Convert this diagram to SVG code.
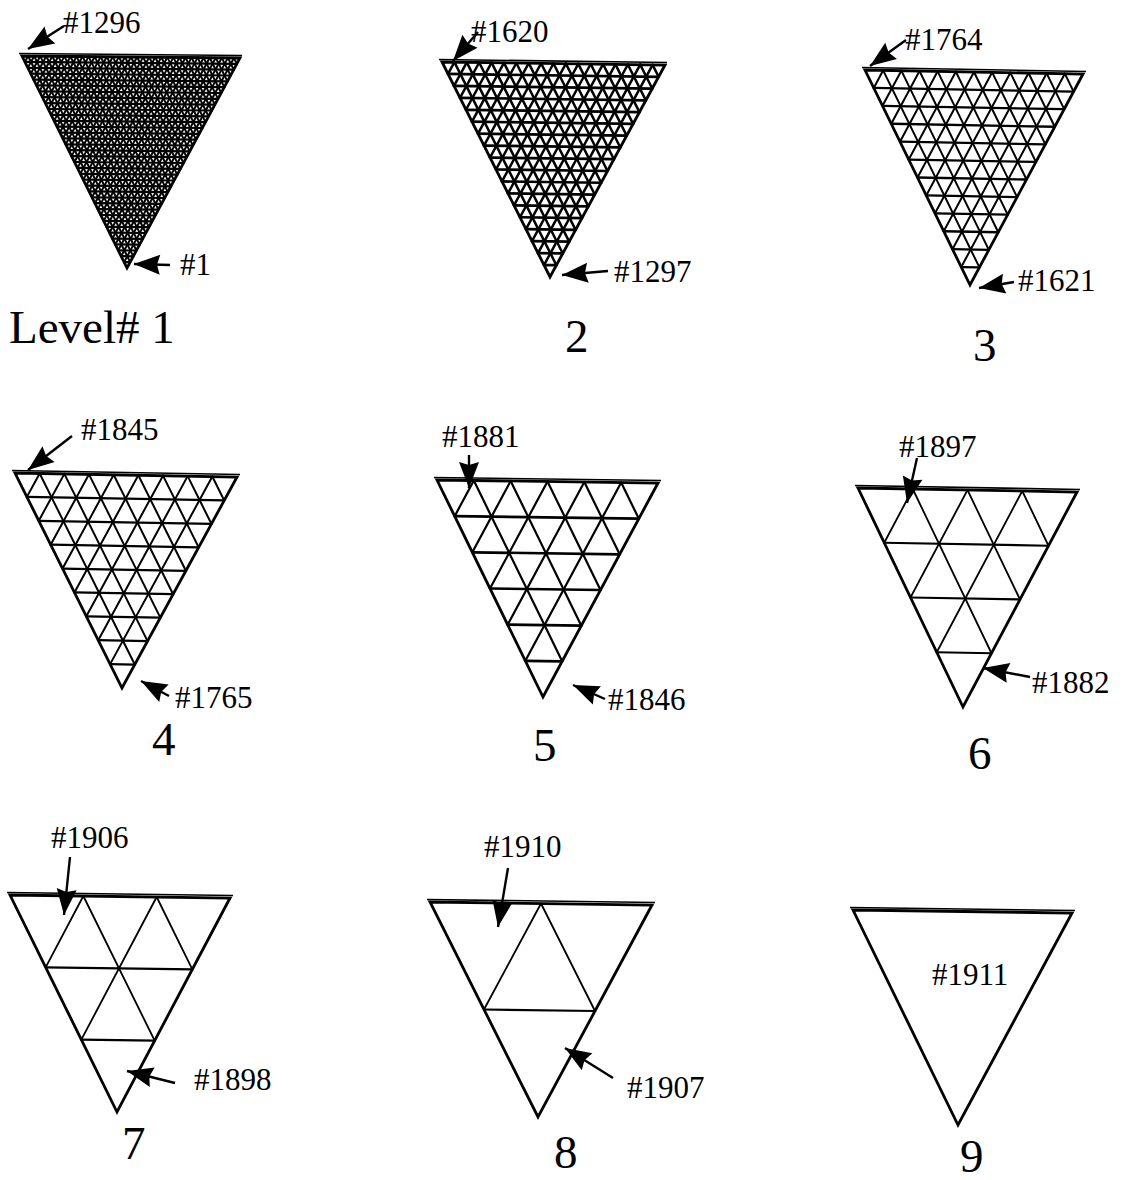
<svg xmlns="http://www.w3.org/2000/svg" width="1126" height="1180" viewBox="0 0 1126 1180">
<defs>
<style>
.g{fill:none;stroke:#000;vector-effect:non-scaling-stroke;stroke-linecap:round}
.o{fill:none;stroke:#000;stroke-width:2.8;vector-effect:non-scaling-stroke;stroke-linejoin:miter}
.top{stroke:#000;stroke-width:1.6;fill:none}
.lbl{font-family:"Liberation Serif","Times New Roman",serif;font-size:31px;fill:#000}
.lvl{font-family:"Liberation Serif","Times New Roman",serif;font-size:47px;fill:#000}
.arr{stroke:#000;stroke-width:2.4;fill:none;marker-end:url(#ah)}
</style>
<marker id="ah" markerUnits="userSpaceOnUse" markerWidth="30" markerHeight="22" refX="26" refY="10" orient="auto" overflow="visible"><path d="M0,0 L26,10 L0,20 L3,10 Z" fill="#000"/></marker>
</defs>
<rect width="1126" height="1180" fill="#fff"/>

<g id="level1">
<g transform="matrix(6.0556 0.0556 2.9167 5.8889 22 56)">
<path class="g" stroke-width="2.2" d="M0 1H35M0 2H34M0 3H33M0 4H32M0 5H31M0 6H30M0 7H29M0 8H28M0 9H27M0 10H26M0 11H25M0 12H24M0 13H23M0 14H22M0 15H21M0 16H20M0 17H19M0 18H18M0 19H17M0 20H16M0 21H15M0 22H14M0 23H13M0 24H12M0 25H11M0 26H10M0 27H9M0 28H8M0 29H7M0 30H6M0 31H5M0 32H4M0 33H3M0 34H2M0 35H1"/>
<path class="g" stroke-width="2" d="M1 0V35M2 0V34M3 0V33M4 0V32M5 0V31M6 0V30M7 0V29M8 0V28M9 0V27M10 0V26M11 0V25M12 0V24M13 0V23M14 0V22M15 0V21M16 0V20M17 0V19M18 0V18M19 0V17M20 0V16M21 0V15M22 0V14M23 0V13M24 0V12M25 0V11M26 0V10M27 0V9M28 0V8M29 0V7M30 0V6M31 0V5M32 0V4M33 0V3M34 0V2M35 0V1"/>
<path class="g" stroke-width="2" d="M1 0L0 1M2 0L0 2M3 0L0 3M4 0L0 4M5 0L0 5M6 0L0 6M7 0L0 7M8 0L0 8M9 0L0 9M10 0L0 10M11 0L0 11M12 0L0 12M13 0L0 13M14 0L0 14M15 0L0 15M16 0L0 16M17 0L0 17M18 0L0 18M19 0L0 19M20 0L0 20M21 0L0 21M22 0L0 22M23 0L0 23M24 0L0 24M25 0L0 25M26 0L0 26M27 0L0 27M28 0L0 28M29 0L0 29M30 0L0 30M31 0L0 31M32 0L0 32M33 0L0 33M34 0L0 34M35 0L0 35"/>
<path class="o" d="M0 0L36 0L0 36Z"/>
</g>
<line class="top" x1="19" y1="53.5" x2="242" y2="55.5"/>
<text class="lbl" x="63" y="33">#1296</text>
<text class="lbl" x="180" y="275">#1</text>
<text class="lvl" x="9" y="343">Level# 1</text>
</g>

<g id="level2">
<g transform="matrix(12.389 0.1667 6 11.944 442 62)">
<path class="g" stroke-width="2.7" d="M0 1H17M0 2H16M0 3H15M0 4H14M0 5H13M0 6H12M0 7H11M0 8H10M0 9H9M0 10H8M0 11H7M0 12H6M0 13H5M0 14H4M0 15H3M0 16H2M0 17H1"/>
<path class="g" stroke-width="2.5" d="M1 0V17M2 0V16M3 0V15M4 0V14M5 0V13M6 0V12M7 0V11M8 0V10M9 0V9M10 0V8M11 0V7M12 0V6M13 0V5M14 0V4M15 0V3M16 0V2M17 0V1"/>
<path class="g" stroke-width="2.5" d="M1 0L0 1M2 0L0 2M3 0L0 3M4 0L0 4M5 0L0 5M6 0L0 6M7 0L0 7M8 0L0 8M9 0L0 9M10 0L0 10M11 0L0 11M12 0L0 12M13 0L0 13M14 0L0 14M15 0L0 15M16 0L0 16M17 0L0 17"/>
<path class="o" d="M0 0L18 0L0 18Z"/>
</g>
<line class="top" x1="439" y1="59.5" x2="667" y2="62.5"/>
<text class="lbl" x="471" y="42">#1620</text>
<text class="lbl" x="614" y="282">#1297</text>
<text class="lvl" x="565" y="352">2</text>
</g>

<g id="level3">
<g transform="matrix(18.167 0.3333 8.75 17.917 865 70)">
<path class="g" stroke-width="2.3" d="M0 1H11M0 2H10M0 3H9M0 4H8M0 5H7M0 6H6M0 7H5M0 8H4M0 9H3M0 10H2M0 11H1"/>
<path class="g" stroke-width="2" d="M1 0V11M2 0V10M3 0V9M4 0V8M5 0V7M6 0V6M7 0V5M8 0V4M9 0V3M10 0V2M11 0V1"/>
<path class="g" stroke-width="2" d="M1 0L0 1M2 0L0 2M3 0L0 3M4 0L0 4M5 0L0 5M6 0L0 6M7 0L0 7M8 0L0 8M9 0L0 9M10 0L0 10M11 0L0 11"/>
<path class="o" d="M0 0L12 0L0 12Z"/>
</g>
<line class="top" x1="862" y1="67.5" x2="1086" y2="71.5"/>
<text class="lbl" x="905" y="50">#1764</text>
<text class="lbl" x="1018" y="291">#1621</text>
<text class="lvl" x="973" y="361">3</text>
</g>

<g id="level4">
<g transform="matrix(24.667 0.4444 11.889 23.889 15 473)">
<path class="g" stroke-width="2.3" d="M0 1H8M0 2H7M0 3H6M0 4H5M0 5H4M0 6H3M0 7H2M0 8H1"/>
<path class="g" stroke-width="2" d="M1 0V8M2 0V7M3 0V6M4 0V5M5 0V4M6 0V3M7 0V2M8 0V1"/>
<path class="g" stroke-width="2" d="M1 0L0 1M2 0L0 2M3 0L0 3M4 0L0 4M5 0L0 5M6 0L0 6M7 0L0 7M8 0L0 8"/>
<path class="o" d="M0 0L9 0L0 9Z"/>
</g>
<line class="top" x1="12" y1="470.5" x2="240" y2="474.5"/>
<text class="lbl" x="81" y="440">#1845</text>
<text class="lbl" x="175" y="708">#1765</text>
<text class="lvl" x="152" y="755">4</text>
</g>

<g id="level5">
<g transform="matrix(36.833 0.5 17.667 36.167 437 480)">
<path class="g" stroke-width="2.6" d="M0 1H5M0 2H4M0 3H3M0 4H2M0 5H1"/>
<path class="g" stroke-width="2.2" d="M1 0V5M2 0V4M3 0V3M4 0V2M5 0V1"/>
<path class="g" stroke-width="2.2" d="M1 0L0 1M2 0L0 2M3 0L0 3M4 0L0 4M5 0L0 5"/>
<path class="o" d="M0 0L6 0L0 6Z"/>
</g>
<line class="top" x1="434" y1="477.5" x2="661" y2="480.5"/>
<text class="lbl" x="442" y="447">#1881</text>
<text class="lbl" x="608" y="710">#1846</text>
<text class="lvl" x="533" y="761">5</text>
</g>

<g id="level6">
<g transform="matrix(54.75 1 26.25 54.75 858 488)">
<path class="g" stroke-width="2.2" d="M0 1H3M0 2H2M0 3H1"/>
<path class="g" stroke-width="1.8" d="M1 0V3M2 0V2M3 0V1"/>
<path class="g" stroke-width="1.8" d="M1 0L0 1M2 0L0 2M3 0L0 3"/>
<path class="o" d="M0 0L4 0L0 4Z"/>
</g>
<line class="top" x1="855" y1="485.5" x2="1080" y2="489.5"/>
<text class="lbl" x="899" y="457">#1897</text>
<text class="lbl" x="1032" y="693">#1882</text>
<text class="lvl" x="968" y="769">6</text>
</g>

<g id="level7">
<g transform="matrix(73.333 1 35.667 72.333 10 895)">
<path class="g" stroke-width="2.2" d="M0 1H2M0 2H1"/>
<path class="g" stroke-width="1.8" d="M1 0V2M2 0V1"/>
<path class="g" stroke-width="1.8" d="M1 0L0 1M2 0L0 2"/>
<path class="o" d="M0 0L3 0L0 3Z"/>
</g>
<line class="top" x1="7" y1="892.5" x2="233" y2="895.5"/>
<text class="lbl" x="51" y="848">#1906</text>
<text class="lbl" x="194" y="1090">#1898</text>
<text class="lvl" x="122" y="1159">7</text>
</g>

<g id="level8">
<g transform="matrix(111 1.5 54 107.5 430 902)">
<path class="g" stroke-width="2.2" d="M0 1H1"/>
<path class="g" stroke-width="1.8" d="M1 0V1M1 0L0 1"/>
<path class="o" d="M0 0L2 0L0 2Z"/>
</g>
<line class="top" x1="427" y1="899.5" x2="655" y2="902.5"/>
<text class="lbl" x="484" y="857">#1910</text>
<text class="lbl" x="627" y="1098">#1907</text>
<text class="lvl" x="554" y="1168">8</text>
</g>

<g id="level9">
<g transform="matrix(219 3 105 215 853 910)">
<path class="o" d="M0 0L1 0L0 1Z"/>
</g>
<line class="top" x1="850" y1="907.5" x2="1075" y2="910.5"/>
<text class="lbl" x="932" y="985">#1911</text>
<text class="lvl" x="960" y="1172">9</text>
</g>

<g id="connectors">
<line class="arr" x1="64" y1="26" x2="28" y2="49"/>
<line class="arr" x1="170" y1="265" x2="134" y2="264"/>
<line class="arr" x1="478" y1="32" x2="453" y2="61"/>
<line class="arr" x1="608" y1="271" x2="562" y2="275"/>
<line class="arr" x1="906" y1="40" x2="870" y2="66"/>
<line class="arr" x1="1014" y1="282" x2="979" y2="288"/>
<line class="arr" x1="72" y1="436" x2="28" y2="470"/>
<line class="arr" x1="169" y1="696" x2="141" y2="681"/>
<line class="arr" x1="469" y1="455" x2="469" y2="488"/>
<line class="arr" x1="605" y1="699" x2="573" y2="685"/>
<line class="arr" x1="917" y1="458" x2="907" y2="503"/>
<line class="arr" x1="1030" y1="677" x2="983" y2="668"/>
<line class="arr" x1="70" y1="857" x2="64" y2="915"/>
<line class="arr" x1="175" y1="1083" x2="127" y2="1071"/>
<line class="arr" x1="508" y1="868" x2="498" y2="927"/>
<line class="arr" x1="613" y1="1078" x2="565" y2="1048"/>
</g>
</svg>
